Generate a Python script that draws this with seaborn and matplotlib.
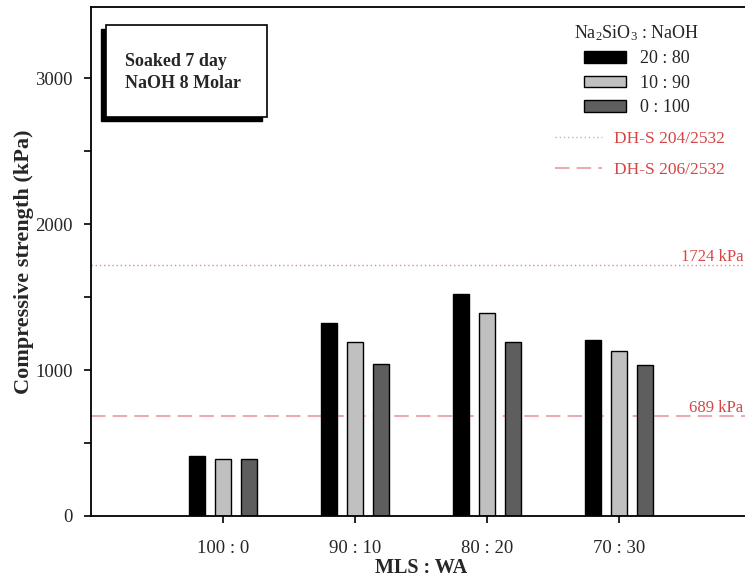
import matplotlib
matplotlib.use("Agg")
import matplotlib.pyplot as plt
import matplotlib.patches as mpatches
from matplotlib.lines import Line2D
import pandas as pd
import seaborn as sns

# Mix ratios (MLS : WA) and activator ratios (Na2SiO3 : NaOH)
mix_ratios = ["100 : 0", "90 : 10", "80 : 20", "70 : 30"]
activator_ratios = ["20 : 80", "10 : 90", "0 : 100"]

# Compressive strength (kPa) per activator ratio, in mix-ratio order
strength_20_80 = [410, 1325, 1520, 1205]
strength_10_90 = [390, 1195, 1395, 1130]
strength_0_100 = [392, 1042, 1190, 1035]

# Standard limits (kPa)
limit_204 = 1724
limit_206 = 689

bar_colors = ["#000000", "#c0c0c0", "#5e5e5e"]

rows = []
for ratio, values in zip(activator_ratios, [strength_20_80, strength_10_90, strength_0_100]):
    for mix, v in zip(mix_ratios, values):
        rows.append({"MLS : WA": mix, "Na2SiO3 : NaOH": ratio, "strength": v})
df = pd.DataFrame(rows)

sns.set_theme(style="ticks")
plt.rcParams["font.family"] = ["Liberation Serif", "DejaVu Serif"]
plt.rcParams["mathtext.fontset"] = "custom"
plt.rcParams["mathtext.rm"] = "Liberation Serif"
plt.rcParams["mathtext.it"] = "Liberation Serif:italic"

W, H = 745, 577
fig = plt.figure(figsize=(W / 100, H / 100), dpi=100)
ax = fig.add_axes([91 / W, (H - 516) / H, 660 / W, 509 / H])

sns.barplot(data=df, x="MLS : WA", y="strength", hue="Na2SiO3 : NaOH",
            order=mix_ratios, hue_order=activator_ratios, palette=bar_colors,
            width=0.6, gap=0.4, edgecolor="black", linewidth=1.0,
            errorbar=None, ax=ax, legend=False)

ax.set_xlim(-1, 4)
ax.set_ylim(0, 3490)

red = "#d64545"
ax.axhline(limit_204, color="#e58a8a", linestyle=(0, (1, 2)), linewidth=1.0, zorder=0)
ax.axhline(limit_206, color="#eaa0a8", linestyle=(0, (8, 4)), linewidth=1.3, zorder=0)
ax.text(3.94, limit_204 + 22, f"{limit_204} kPa", color=red, fontsize=12,
        ha="right", va="baseline")
ax.text(3.94, limit_206 + 22, f"{limit_206} kPa", color=red, fontsize=12,
        ha="right", va="baseline")

# Axes styling
for side in ["left", "top", "bottom", "right"]:
    ax.spines[side].set_linewidth(1.3)
    ax.spines[side].set_color("black")
ax.set_yticks([0, 1000, 2000, 3000])
ax.set_yticks([500, 1500, 2500], minor=True)
ax.tick_params(axis="y", which="both", direction="out", length=5, width=1.2,
               labelsize=13.5, pad=8, color="black")
ax.tick_params(axis="x", direction="out", length=5, width=1.2,
               labelsize=13.5, pad=12, color="black")
ax.set_ylabel("Compressive strength (kPa)", fontsize=16, fontweight="bold",
              labelpad=1)
ax.set_xlabel("MLS : WA", fontsize=14.5, fontweight="bold", labelpad=1)

# Legend for the activator ratios
bar_handles = [mpatches.Patch(facecolor=c, edgecolor="black", linewidth=1.0)
               for c in bar_colors]
leg1 = ax.legend(bar_handles, activator_ratios,
                 title=r"Na$_2$SiO$_3$ : NaOH", title_fontsize=13, fontsize=13,
                 loc="upper center", bbox_to_anchor=(637 / W, 1 - 14 / H),
                 bbox_transform=fig.transFigure, frameon=False, borderpad=0,
                 handlelength=2.3, handleheight=0.6, handletextpad=0.8,
                 labelspacing=0.42)
ax.add_artist(leg1)

line_handles = [Line2D([], [], color="#b8b8b8", linestyle=(0, (1, 2)), linewidth=1.0),
                Line2D([], [], color="#eaa0a8", linestyle=(0, (8, 4)), linewidth=1.3)]
leg2 = ax.legend(line_handles, ["DH-S 204/2532", "DH-S 206/2532"], fontsize=12.5,
                 loc="upper center", bbox_to_anchor=(640 / W, 1 - 122 / H),
                 bbox_transform=fig.transFigure, frameon=False, borderpad=0,
                 handlelength=2.7, handletextpad=0.7, labelspacing=0.85)
for t in leg2.get_texts():
    t.set_color(red)

# Annotation box with drop shadow
bx0, by0, bx1, by1 = 106, 25, 267, 117
shadow = mpatches.Rectangle(((bx0 - 5) / W, 1 - (by1 + 4) / H), (bx1 - bx0) / W,
                            (by1 - by0) / H, transform=fig.transFigure,
                            facecolor="black", edgecolor="black", zorder=5)
box = mpatches.Rectangle((bx0 / W, 1 - by1 / H), (bx1 - bx0) / W, (by1 - by0) / H,
                         transform=fig.transFigure, facecolor="white",
                         edgecolor="black", linewidth=1.2, zorder=6)
fig.add_artist(shadow)
fig.add_artist(box)
fig.text(125 / W, 1 - 61 / H, "Soaked 7 day", fontsize=13, fontweight="bold",
         ha="left", va="center", zorder=7)
fig.text(125 / W, 1 - 83 / H, "NaOH 8 Molar", fontsize=13, fontweight="bold",
         ha="left", va="center", zorder=7)

fig.savefig("out.png", dpi=100)
